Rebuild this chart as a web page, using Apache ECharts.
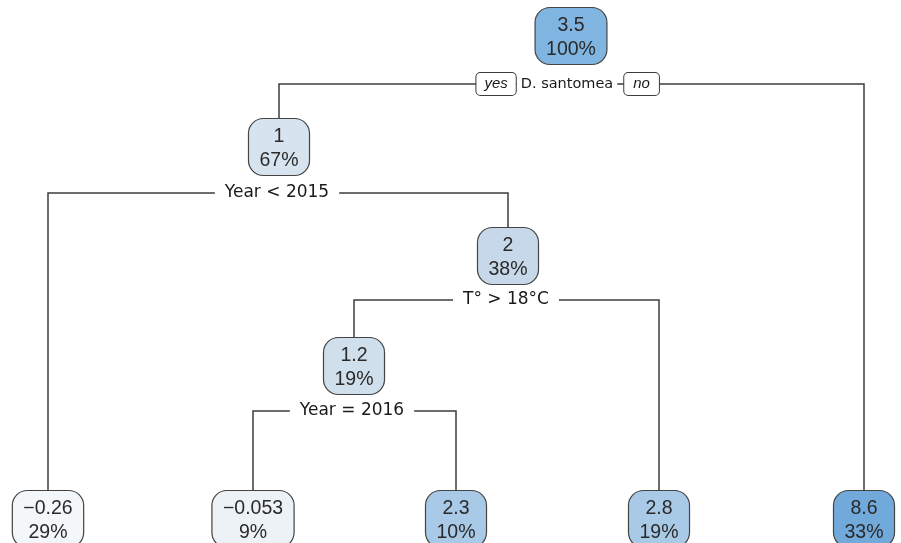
<!DOCTYPE html>
<html>
<head>
<meta charset="utf-8">
<script src="https://cdn.jsdelivr.net/npm/echarts@6/dist/echarts.min.js"></script>
<style>
html, body { margin: 0; padding: 0; background: #fff; }
#chart { width: 901px; height: 543px; }
</style>
</head>
<body>
<div id="chart"></div>
<script>
// tree nodes (root first, then as they appear)
const nodeMean = ['3.5', '1', '2', '1.2', '\u22120.26', '\u22120.053', '2.3', '2.8', '8.6'];
const nodeShare = ['100%', '67%', '38%', '19%', '29%', '9%', '10%', '19%', '33%'];
const nodeParent = [-1, 0, 1, 2, 1, 3, 3, 2, 0];
// node centres (axis units)
const nodeX = [571, 279, 508, 354, 48, 253, 456, 659, 864];
const nodeY = [36, 147, 256, 366, 519, 519, 519, 519, 519];

// split rules of the inner nodes
const splitNode = [0, 1, 2, 3];
const splitText = ['D. santomea', 'Year < 2015', 'T\u00b0 > 18\u00b0C', 'Year = 2016'];
const splitY = [84, 193, 300, 411];
const branchText = ['yes', 'no'];

// styles
const nodeFill = ['#80b5e1', '#d7e3ef', '#c6d8ea', '#d0dfec', '#f4f7fa', '#edf2f7', '#a8cae7', '#a9cae7', '#71a9da'];
const LINE = '#3c3c3c';
const BOX_H = 57;
const BOX_FONT = '19.5px "Liberation Sans", Arial, sans-serif';
const SPLIT_FONT = '17px "DejaVu Sans", sans-serif';
const ROOT_SPLIT_FONT = '14.5px "DejaVu Sans", sans-serif';
const BRANCH_FONT = 'italic 15px "Liberation Sans", Arial, sans-serif';

const measureCtx = document.createElement('canvas').getContext('2d');
function textWidth(text, font) {
  measureCtx.font = font;
  return measureCtx.measureText(text).width;
}

function splitOf(node) {
  return splitNode.indexOf(node);
}

const chart = echarts.init(document.getElementById('chart'));

// edges: child top -> up to parent's split line -> across to parent
const edgeData = [];
nodeParent.forEach((p, i) => {
  if (p >= 0) edgeData.push([nodeX[i], nodeY[i], nodeX[p], splitY[splitOf(p)]]);
});

chart.setOption({
  animation: false,
  grid: { left: 0, right: 0, top: 0, bottom: 0 },
  xAxis: { type: 'value', min: 0, max: 901, show: false },
  yAxis: { type: 'value', min: 0, max: 543, inverse: true, show: false },
  series: [
    {
      type: 'custom',
      z: 1,
      silent: true,
      data: edgeData,
      renderItem: (params, api) => {
        const top = api.coord([api.value(0), api.value(1)]);
        const turn = api.coord([api.value(0), api.value(3)]);
        const end = api.coord([api.value(2), api.value(3)]);
        return {
          type: 'polyline',
          shape: { points: [[top[0], top[1] - BOX_H / 2], turn, end] },
          style: { stroke: LINE, lineWidth: 1.5, fill: null }
        };
      }
    },
    {
      type: 'custom',
      z: 3,
      silent: true,
      data: splitNode.map((n, k) => [nodeX[n], splitY[k], k]),
      renderItem: (params, api) => {
        const k = api.value(2);
        const c = api.coord([api.value(0), api.value(1)]);
        const font = k === 0 ? ROOT_SPLIT_FONT : SPLIT_FONT;
        const children = [{
          type: 'text',
          style: {
            text: splitText[k], x: c[0] - (k === 0 ? 4 : 2), y: c[1],
            align: 'center', verticalAlign: 'middle', font: font, fill: '#1a1a1a',
            backgroundColor: '#fff', padding: k === 0 ? [4, 4] : [4, 10]
          }
        }];
        if (k === 0) {
          const half = textWidth(splitText[k], font) / 2;
          children.push({
            type: 'text',
            style: {
              text: branchText[0], x: c[0] - 4 - half - 5, y: c[1],
              align: 'right', verticalAlign: 'middle', font: BRANCH_FONT, fill: '#1a1a1a',
              backgroundColor: '#fff', borderColor: LINE, borderWidth: 1, borderRadius: 4,
              padding: [4, 8, 3, 8]
            }
          }, {
            type: 'text',
            style: {
              text: branchText[1], x: c[0] - 4 + half + 11, y: c[1],
              align: 'left', verticalAlign: 'middle', font: BRANCH_FONT, fill: '#1a1a1a',
              backgroundColor: '#fff', borderColor: LINE, borderWidth: 1, borderRadius: 4,
              padding: [4, 9, 3, 9]
            }
          });
        }
        return { type: 'group', children: children };
      }
    },
    {
      type: 'custom',
      z: 4,
      silent: true,
      data: nodeX.map((x, i) => [x, nodeY[i], i]),
      renderItem: (params, api) => {
        const i = api.value(2);
        const c = api.coord([api.value(0), api.value(1)]);
        const w = Math.max(textWidth(nodeMean[i], BOX_FONT), textWidth(nodeShare[i], BOX_FONT)) + 22;
        return {
          type: 'group',
          children: [
            {
              type: 'rect',
              shape: { x: c[0] - w / 2, y: c[1] - BOX_H / 2, width: w, height: BOX_H, r: 15 },
              style: { fill: nodeFill[i], stroke: '#444', lineWidth: 1.2 }
            },
            {
              type: 'text',
              style: {
                text: nodeMean[i], x: c[0], y: c[1] - 10.5,
                align: 'center', verticalAlign: 'middle', font: BOX_FONT, fill: '#2a2a2a'
              }
            },
            {
              type: 'text',
              style: {
                text: nodeShare[i], x: c[0], y: c[1] + 13.5,
                align: 'center', verticalAlign: 'middle', font: BOX_FONT, fill: '#2a2a2a'
              }
            }
          ]
        };
      }
    }
  ]
});
</script>
</body>
</html>
